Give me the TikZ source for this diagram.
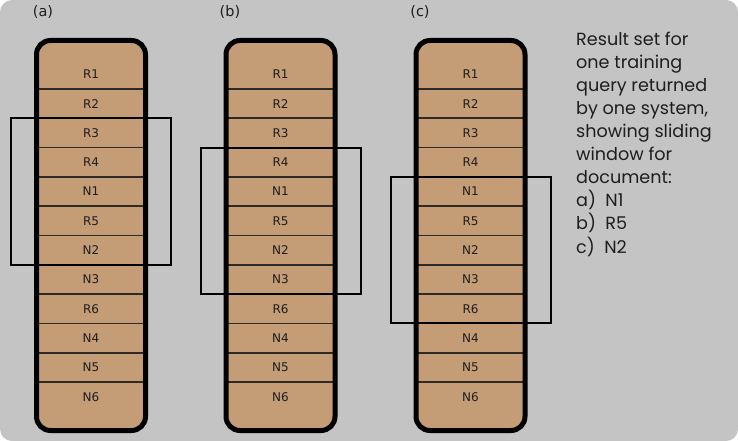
\documentclass[tikz,border=0pt]{standalone}
\usepackage{fontspec}
\setmainfont{DejaVu Sans}
\newfontfamily\descfont{Poppins}
\definecolor{bggray}{HTML}{C4C4C4}
\definecolor{cellfill}{HTML}{C49C76}
\definecolor{sepcol}{HTML}{2E2A26}
\definecolor{txtcol}{HTML}{1E1E1E}
\begin{document}
\begin{tikzpicture}[x=1pt,y=-1pt,
  colbox/.style={fill=cellfill, rounded corners=14pt},
  colborder/.style={draw=black, line width=5pt, rounded corners=14pt},
  sepline/.style={draw=sepcol, line width=1.6pt},
  celllabel/.style={font=\fontsize{12}{14}\selectfont, text=txtcol, inner sep=0pt},
  panellabel/.style={font=\fontsize{14.5}{16}\selectfont, text=txtcol, inner sep=0pt},
  window/.style={draw=black, line width=2pt},
  desc/.style={font=\descfont\fontsize{17.6}{23.1}\selectfont, text=txtcol, align=left, inner sep=0pt, anchor=north west}
]
\useasboundingbox (0,0) rectangle (738,441);
\fill[white] (0,0) rectangle (738,441);
\fill[bggray, rounded corners=12pt] (0,0) rectangle (738,441);

\foreach \p/\cx/\lx/\wa/\wb in {a/91/43/2/7, b/280.5/230/3/8, c/470.5/420/4/9} {
  % column body
  \fill[colbox] (\cx-54.5,40.5) rectangle (\cx+54.5,430.5);
  % separators
  \foreach \k in {1,...,11} {
    \draw[sepline] ({\cx-54},{89+(\k-1)*29.3}) -- ({\cx+54},{89+(\k-1)*29.3});
  }
  % labels
  \foreach \lab [count=\k] in {R1,R2,R3,R4,N1,R5,N2,N3,R6,N4,N5,N6} {
    \node[celllabel] (\p-\lab) at (\cx,{89+(\k-1)*29.3-14.65}) {\lab};
  }
  % outer border
  \draw[colborder] (\cx-54.5,40.5) rectangle (\cx+54.5,430.5);
  % sliding window
  \draw[window] ({\cx-80},{89+(\wa-1)*29.3}) rectangle ({\cx+80},{89+(\wb-1)*29.3});
  % panel label
  \node[panellabel] (lab-\p) at (\lx,11.5) {(\p)};
}

\node[desc] (desc) at (576,31.5) {Result set for\\one training\\query returned\\by one system,\\showing sliding\\window for\\document:\\a)\ \ N1\\b)\ \ R5\\c)\ \ N2};
\end{tikzpicture}
\end{document}
